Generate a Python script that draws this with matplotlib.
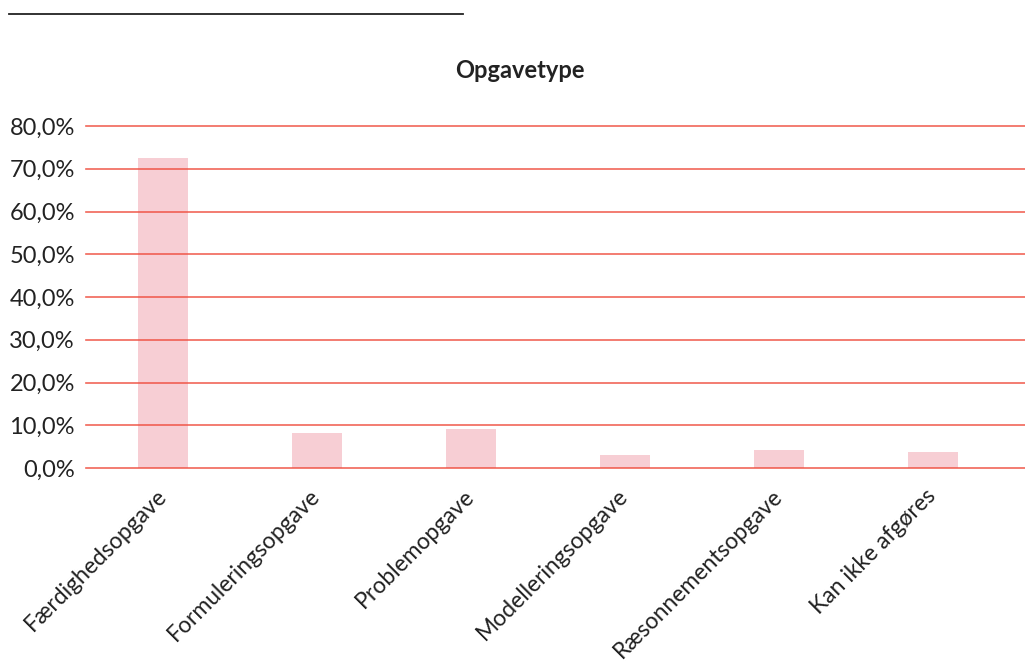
import matplotlib
matplotlib.use("Agg")
import matplotlib.pyplot as plt
from matplotlib.ticker import FuncFormatter
from matplotlib.lines import Line2D

kategorier = ["Færdighedsopgave", "Formuleringsopgave", "Problemopgave",
              "Modelleringsopgave", "Ræsonnementsopgave", "Kan ikke afgøres"]
andele = [72.5, 8.2, 9.1, 3.0, 4.2, 3.7]
yticks = [0, 10, 20, 30, 40, 50, 60, 70, 80]

plt.rcParams['font.family'] = ['Lato', 'DejaVu Sans']

fig = plt.figure(figsize=(10.25, 6.65), dpi=100)
ax = fig.add_axes([86 / 1025, 1 - 468 / 665, (1025 - 86) / 1025, (468 - 126) / 665])

x = range(len(kategorier))
ax.bar(x, andele, width=0.325, color='#f7ced4', zorder=2)
for v in yticks:
    ax.axhline(v, color='#ef4b3c', lw=1.2, alpha=0.85, zorder=3, clip_on=False)

ax.set_ylim(0, 80)
ax.set_xlim(-0.5, 5.6)
ax.set_yticks(yticks)
ax.yaxis.set_major_formatter(FuncFormatter(lambda v, p: f"{v:.1f}%".replace('.', ',')))
ax.set_xticks(list(x))
ax.set_xticklabels(kategorier, rotation=45, ha='right', va='center',
                   rotation_mode='anchor')
ax.tick_params(axis='y', length=0, labelsize=17, colors='#222222', pad=8)
ax.tick_params(axis='x', length=0, labelsize=16.5, colors='#222222', pad=18)
for s in ax.spines.values():
    s.set_visible(False)

fig.text(520 / 1025, 1 - 70 / 665, "Opgavetype", ha='center', va='center',
         fontsize=17, fontweight='bold', color='#222222')
fig.add_artist(Line2D([9 / 1025, 463 / 1025], [1 - 14 / 665, 1 - 14 / 665],
                      color='#222222', lw=1.3, transform=fig.transFigure))

fig.savefig("out.png", dpi=100)
